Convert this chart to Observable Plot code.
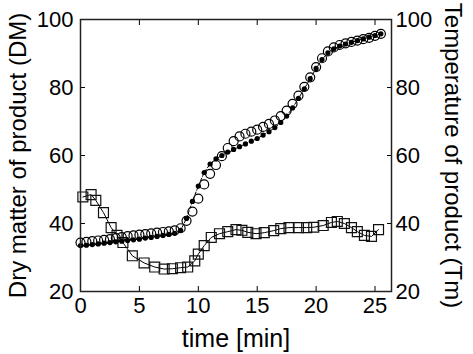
<!DOCTYPE html>
<html><head><meta charset="utf-8">
<script src="https://cdn.jsdelivr.net/npm/d3@7"></script>
<script src="https://cdn.jsdelivr.net/npm/@observablehq/plot@0.6"></script>
<style>
body{margin:0;background:#fff}
svg{font-family:"Liberation Sans",Arial,sans-serif}
</style>
</head><body><div id="chart"></div>
<script>
const dmTime = [0,0.5,1,1.5,2,2.5,3,3.5,4,4.5,5,5.5,6,6.5,7,7.5,8,8.5,9,9.5,10,10.5,11,11.5,12,12.5,13,13.5,14,14.5,15,15.5,16,16.5,17,17.5,18,18.5,19,19.5,20,20.5,21,21.5,22,22.5,23,23.5,24,24.5,25,25.5];
const dmOpen = [34.4,34.6,34.8,35.0,35.2,35.4,35.7,36.0,36.3,36.5,36.7,36.9,37.1,37.3,37.5,37.7,38.0,38.6,40.8,43.5,47.3,51.5,54.6,57.2,59.8,62.2,64.2,65.6,66.4,67.0,67.6,68.4,69.3,70.3,71.6,73.2,75.2,77.6,80.2,83.0,86.0,88.6,90.6,91.8,92.5,93.0,93.4,93.8,94.2,94.6,95.2,95.8];
const dmFilled = [33.5,33.6,33.8,34.0,34.2,34.4,34.6,34.8,35.0,35.2,35.4,35.7,35.9,36.2,36.5,36.8,37.1,38.0,41.5,46.5,51.0,55.0,57.5,59.0,60.0,61.0,61.8,62.6,63.4,64.2,65.0,66.0,67.0,68.2,69.7,71.6,74.0,76.8,79.6,82.6,85.6,88.2,90.2,91.4,92.2,92.8,93.3,93.8,94.3,94.8,95.3,95.8];
const tmTime = [0.2,0.9,1.3,1.95,2.6,3.1,3.6,4.4,5.4,6.3,7.1,7.8,8.5,9.1,9.7,10.0,10.5,11.1,11.8,12.5,13.2,13.7,14.2,14.9,15.6,16.4,17.0,17.7,18.5,19.2,19.8,20.6,21.3,21.8,22.4,23.0,23.5,24.1,24.7,25.3];
const tmValues = [47.8,48.5,46.8,43.2,38.8,36.5,34.4,30.5,28.4,27.2,26.6,26.7,27.0,27.2,29.0,31.0,33.5,35.9,37.0,37.6,38.2,38.0,37.4,37.0,37.3,37.9,38.5,38.8,38.8,38.8,38.9,39.4,40.3,40.6,40.0,38.8,37.6,36.5,36.2,38.2];
const xTicks = [0,5,10,15,20,25];
const yTicks = [20,40,60,80,100];
const xLabel = "time [min]";
const yLeftLabel = "Dry matter of product (DM)";
const yRightLabel = "Temperature of product (Tm)";

const dm = dmTime.map((t,i) => ({t, open: dmOpen[i], filled: dmFilled[i]}));
const tm = tmTime.map((t,i) => ({t, v: tmValues[i]}));

const chart = Plot.plot({
  width: 473, height: 354,
  marginLeft: 80, marginRight: 82, marginTop: 19, marginBottom: 63,
  x: {domain: [0, 26.4]},
  y: {domain: [20, 100]},
  style: {fontFamily: "Liberation Sans, Arial, sans-serif", color: "#000", background: "#fff"},
  marks: [
    Plot.line(tm, {x: "t", y: "v", stroke: "#000", strokeWidth: 1}),
    Plot.dot(tm, {x: "t", y: "v", symbol: "square", r: 5.6, stroke: "#111", strokeWidth: 1.2, fill: "none"}),
    Plot.line(dm, {x: "t", y: "filled", stroke: "#000", strokeWidth: 1, strokeDasharray: "3,2"}),
    Plot.dot(dm, {x: "t", y: "open", r: 4.5, stroke: "#000", strokeWidth: 1.2, fill: "none"}),
    Plot.dot(dm, {x: "t", y: "filled", r: 2.6, fill: "#000", stroke: "none"}),
    Plot.axisX(xTicks, {anchor: "bottom", tickSize: -5, tickPadding: 11, fontSize: 22, label: null}),
    Plot.axisX(xTicks, {anchor: "top", tickSize: -5, tickFormat: () => "", label: null}),
    Plot.axisY(yTicks, {anchor: "left", tickSize: -5, tickPadding: 12, fontSize: 22, label: null}),
    Plot.axisY(yTicks, {anchor: "right", tickSize: -5, tickPadding: 9, fontSize: 22, label: null}),
    Plot.frame({stroke: "#222", strokeWidth: 1.5}),
    Plot.text([yLeftLabel], {text: d => d, frameAnchor: "left", dx: -62, rotate: -90, textAnchor: "middle", lineAnchor: "middle", fontSize: 24, fill: "#000"}),
    Plot.text([yRightLabel], {text: d => d, frameAnchor: "right", dx: 61, rotate: 90, textAnchor: "middle", lineAnchor: "middle", fontSize: 24, fill: "#000"}),
    Plot.text([xLabel], {text: d => d, frameAnchor: "bottom", dy: 47, textAnchor: "middle", lineAnchor: "middle", fontSize: 25, fill: "#000"})
  ]
});
document.getElementById("chart").appendChild(chart);
</script>
</body></html>
